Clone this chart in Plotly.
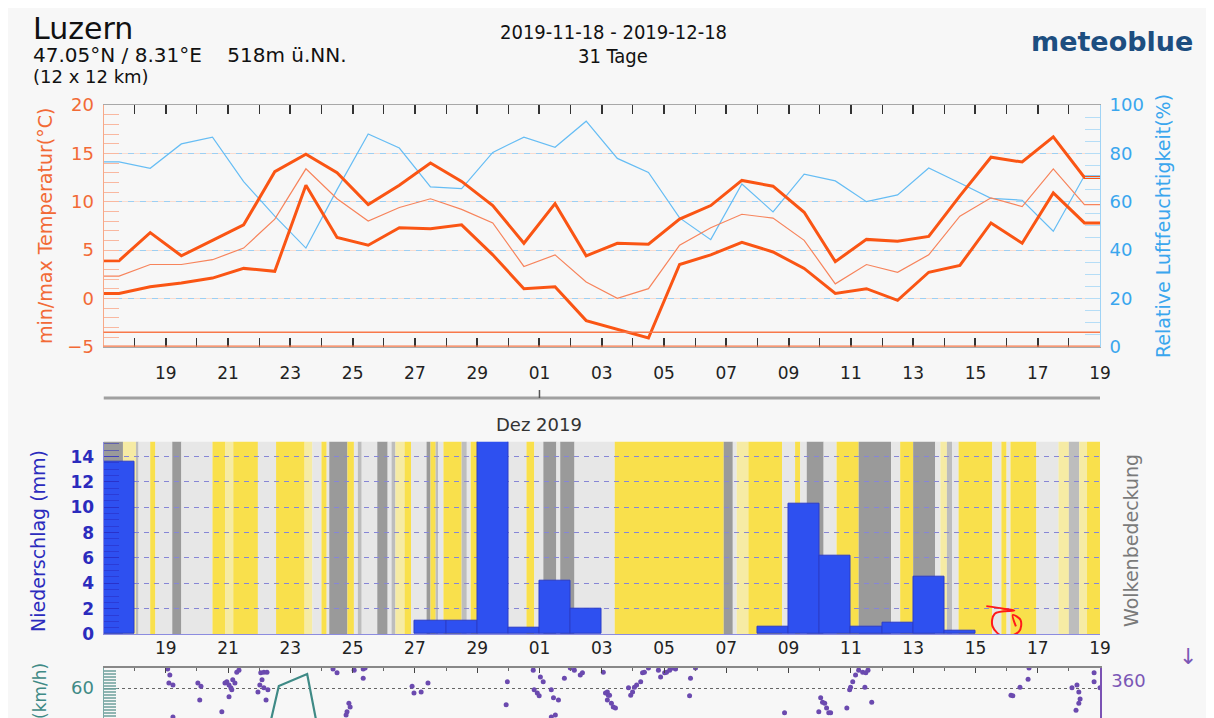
import pandas as pd
import plotly.graph_objects as go

# ---------------- data ----------------
base = pd.Timestamp("2019-11-17 00:00")
x_end = pd.Timestamp("2019-12-19 00:00")
days = pd.date_range("2019-11-17", periods=32, freq="D")
noon = days + pd.Timedelta(hours=12)
tick_days = pd.date_range("2019-11-19", "2019-12-19", freq="2D")
tick_labels = [t.strftime("%d") for t in tick_days]

temp_max = [3.9, 6.8, 4.4, 6.0, 7.6, 13.1, 14.9, 13.0, 9.7, 11.7, 14.0, 12.1, 9.6, 5.7, 9.8, 4.4,
            5.7, 5.6, 8.2, 9.6, 12.2, 11.6, 8.9, 3.8, 6.1, 5.9, 6.4, 10.6, 14.6, 14.1, 16.7, 12.5]
temp_min = [0.5, 1.2, 1.6, 2.1, 3.1, 2.8, 11.7, 6.3, 5.5, 7.3, 7.2, 7.6, 4.5, 1.0, 1.2, -2.3,
            -3.2, -4.1, 3.5, 4.5, 5.8, 4.8, 3.1, 0.5, 1.0, -0.2, 2.7, 3.4, 7.8, 5.7, 10.9, 7.8]
temp_mean = [2.3, 3.5, 3.5, 4.0, 5.2, 8.2, 13.4, 10.3, 8.0, 9.4, 10.3, 9.2, 7.8, 3.3, 4.5, 1.7,
             0.0, 1.0, 5.5, 7.3, 8.7, 8.3, 6.0, 1.5, 3.5, 2.7, 4.5, 8.5, 10.4, 9.5, 13.4, 9.7]
rel_hum = [76.5, 73.8, 83.9, 86.7, 68.3, 54.0, 40.8, 65.0, 88.0, 82.2, 66.1, 65.4, 80.4, 86.7, 82.5, 93.3,
           77.9, 72.1, 53.3, 44.3, 67.3, 55.8, 71.4, 68.6, 60.0, 62.8, 73.9, 67.7, 61.4, 60.6, 47.8, 70.7]
precip = [13.6, 0, 0, 0, 0, 0, 0, 0, 0, 0, 1.05, 1.05, 15.3, 0.5, 4.2, 2.0,
          0, 0, 0, 0, 0, 0.6, 10.3, 6.2, 0.6, 0.9, 4.5, 0.3, 0, 0, 0, 0]

# cloud cover segments (hours since 2019-11-17 00:00) and category
cloud_start_h = [0, 15, 25, 27, 36, 40, 53, 60, 84, 94, 100, 119, 133, 155, 161, 168, 172, 174, 188, 193,
                 196, 199, 211, 219, 222, 225, 232, 237, 249, 252, 256, 258, 262, 276, 280, 283, 289, 326,
                 332, 339, 349, 352, 363, 394, 478, 485, 488, 497, 523, 533, 537, 542, 555, 565, 582, 607,
                 614, 624, 641, 645, 650, 654, 659, 685, 692, 696, 699, 719, 736, 744, 752, 758]
cloud_type = ["D", "P", "M", "L", "Y", "L", "D", "L", "Y", "P", "Y", "L", "Y", "P", "L", "Y", "L", "D", "Y", "L",
              "M", "L", "D", "L", "M", "P", "Y", "L", "D", "Y", "M", "L", "Y", "M", "L", "Y", "L", "Y",
              "L", "D", "L", "D", "L", "Y", "D", "L", "P", "Y", "L", "Y", "L", "D", "L", "Y", "D", "L",
              "Y", "D", "L", "P", "M", "L", "Y", "L", "Y", "L", "Y", "L", "P", "M", "P", "Y"]
cloud_end_h = 768
cloud_colors = {"Y": "#f9e04c", "P": "#f6eba4", "L": "#e7e7e7", "M": "#bdbdbd", "D": "#9a9a9a"}

# wind (only the upper part of the panel is visible)
wind_speed_day = [0.0, 5.17, 5.63, 6.54, 7.0, 32.0]
wind_speed_kmh = [20, 20, 61.3, 69.3, 20, 20]
wind_dir_day = [2.06, 2.13, 2.10, 2.23, 2.23, 3.03, 3.13, 3.09, 3.80, 3.90, 3.96, 4.03, 4.09, 4.15, 4.22,
                4.28, 4.12, 4.03, 4.35, 5.05, 5.15, 5.25, 5.09, 5.02, 4.96, 5.15, 5.28, 5.22, 7.37, 7.50,
                8.05, 8.34, 8.40, 8.34, 7.88, 7.92, 7.82, 7.79, 9.91, 9.97, 10.20, 10.42, 12.97, 12.93,
                13.80, 14.03, 14.12, 13.83, 13.93, 13.99, 14.38, 14.45, 14.61, 14.51, 14.38, 14.80, 14.99,
                15.12, 15.31, 15.38, 16.05, 16.18, 16.21, 16.12, 16.25, 16.18, 16.31, 16.37, 16.44, 16.86,
                16.93, 16.99, 17.05, 17.12, 17.25, 17.31, 17.37, 17.50, 17.82, 17.89, 18.02, 18.08, 18.18,
                18.27, 18.37, 18.85, 18.82, 19.01, 21.87, 22.97, 23.03, 23.09, 23.16, 23.22, 23.29, 23.35,
                23.87, 24.06, 23.99, 23.96, 24.15, 24.25, 24.38, 24.48, 24.55, 24.45, 24.67, 29.14, 29.20,
                29.43, 29.69, 29.72, 31.10, 31.26, 31.32, 31.36, 31.32, 31.23, 31.81, 31.81, 32.0]
wind_dir_deg = [358, 347, 332, 328, 268, 332, 326, 300, 278, 332, 334, 328, 323, 338, 332,
                352, 319, 306, 356, 351, 352, 352, 338, 328, 315, 323, 319, 300, 358, 351,
                356, 358, 360, 341, 294, 287, 278, 272, 326, 313, 315, 332, 334, 291,
                356, 343, 334, 319, 313, 308, 319, 304, 300, 272, 268, 341, 360,
                356, 347, 351, 352, 315, 309, 313, 309, 300, 294, 287, 285, 323,
                309, 315, 324, 328, 334, 351, 352, 360, 356, 343, 351, 352, 356,
                360, 358, 341, 308, 360, 276, 278, 304, 296, 294, 285, 276, 276,
                285, 334, 324, 319, 347, 356, 352, 351, 356, 324, 296, 309, 308,
                324, 339, 360, 323, 328, 315, 302, 294, 281, 351, 334, 323]

# hand-drawn red mark (in precipitation panel coordinates: day offset, mm)
mark_day = [28.35, 28.9, 29.25, 28.62, 28.55, 28.9, 29.4, 29.45, 29.2, 29.3]
mark_mm = [2.2, 2.0, 1.85, 1.6, 0.6, -0.2, 0.2, 1.1, 1.5, 0.6]

# ---------------- figure ----------------
W, H = 1214, 718
OFF = 8  # page body margin: screen px = figure px + 8
def py(px):
    return 1 - (px - OFF) / H
def pxx(px):
    return (px - OFF) / W

FONT = "DejaVu Sans"
ORANGE = "#fa5514"
ORANGE_T = "#f26a36"
BLUE_RH = "#66bdf4"
BLUE_RH_T = "#3aa6ee"
BLUE_P = "#2b2bbd"
TEAL = "#3f8a86"
PURPLE = "#6b4aaf"

xdom = [pxx(103.5), pxx(1100)]
xr = [base.isoformat(), x_end.isoformat()]
DAY = 86400000

def tdays(d):
    return (base + pd.Timedelta(days=d)).isoformat()

fig = go.Figure()

x_ext = [base.isoformat()] + [t.isoformat() for t in noon] + [x_end.isoformat()]
def ext(v):
    return [v[0]] + list(v) + [v[-1]]

fig.add_trace(go.Scatter(x=x_ext, y=ext(rel_hum), mode="lines", line=dict(color=BLUE_RH, width=1.2),
                         xaxis="x", yaxis="y"))
fig.add_trace(go.Scatter(x=x_ext, y=ext(temp_mean), mode="lines", line=dict(color="#f7845c", width=1.2),
                         xaxis="x", yaxis="y2"))
fig.add_trace(go.Scatter(x=x_ext, y=ext(temp_max), mode="lines", line=dict(color=ORANGE, width=3),
                         xaxis="x", yaxis="y2"))
fig.add_trace(go.Scatter(x=x_ext, y=ext(temp_min), mode="lines", line=dict(color=ORANGE, width=3),
                         xaxis="x", yaxis="y2"))

fig.add_trace(go.Bar(x=[t.isoformat() for t in noon], y=precip, width=[DAY] * len(precip),
                     marker=dict(color="#2e50f0",
                                 line=dict(color="#2a3cc8", width=[1 if v > 0 else 0 for v in precip])),
                     xaxis="x2", yaxis="y3"))
fig.add_trace(go.Scatter(x=[tdays(d) for d in mark_day], y=mark_mm, mode="lines",
                         line=dict(color="#ff1a1a", width=2, shape="spline"), xaxis="x2", yaxis="y3"))

fig.add_trace(go.Scatter(x=[tdays(d) for d in wind_speed_day], y=wind_speed_kmh, mode="lines",
                         line=dict(color=TEAL, width=2.2), xaxis="x3", yaxis="y4"))
fig.add_trace(go.Scatter(x=[tdays(d) for d in wind_dir_day], y=wind_dir_deg, mode="markers",
                         marker=dict(color=PURPLE, size=5), xaxis="x3", yaxis="y5"))

ends = cloud_start_h[1:] + [cloud_end_h]
for s, e, t in zip(cloud_start_h, ends, cloud_type):
    fig.add_shape(type="rect", xref="x2", yref="y3 domain",
                  x0=(base + pd.Timedelta(hours=s)).isoformat(),
                  x1=(base + pd.Timedelta(hours=e)).isoformat(),
                  y0=0, y1=1, fillcolor=cloud_colors[t], line_width=0, layer="below")

for yv, w in [(-5, 2.5), (-3.5, 1.5)]:
    fig.add_shape(type="line", xref="x domain", yref="y2", x0=0, x1=1, y0=yv, y1=yv,
                  line=dict(color="#f8784a", width=w), layer="above")

fig.add_shape(type="line", xref="x", yref="paper", x0=xr[0], x1=xr[1], y0=py(398), y1=py(398),
              line=dict(color="#a0a0a0", width=3))
fig.add_shape(type="line", xref="x", yref="paper", x0="2019-12-01", x1="2019-12-01",
              y0=py(398), y1=py(390), line=dict(color="#555", width=1.5))

xcommon = dict(type="date", range=xr, domain=xdom, tickmode="array",
               tickvals=[t.isoformat() for t in tick_days], ticktext=tick_labels,
               automargin=False, showgrid=False, zeroline=False)

fig.update_layout(
    width=W, height=H, margin=dict(l=0, r=0, t=0, b=0),
    paper_bgcolor="#f7f7f7", plot_bgcolor="rgba(0,0,0,0)",
    showlegend=False, barmode="overlay", bargap=0,
    font=dict(family=FONT, color="#222"),
    xaxis=dict(**xcommon, anchor="y", showline=True, linecolor="#a8a8a8", linewidth=1,
               mirror="allticks", ticks="inside", ticklen=9, tickwidth=1.5, tickcolor="#333",
               minor=dict(dtick=DAY, tick0=base.isoformat(), ticks="inside", ticklen=5, tickwidth=1.2,
                          tickcolor="#333"),
               tickfont=dict(size=17, color="#222"), ticklabelstandoff=11),
    yaxis=dict(domain=[py(346.7), py(105)], range=[0, 100], side="right", anchor="x",
               tickvals=[0, 20, 40, 60, 80, 100], tickfont=dict(size=18, color=BLUE_RH_T),
               showgrid=True, gridcolor="#9dcff2", griddash="6px,6px", gridwidth=1,
               showline=True, linecolor="#9fd3f5", ticks="inside", ticklen=15, tickcolor="#b5ddf6",
               minor=dict(dtick=5, ticks="inside", ticklen=15, tickcolor="#b5ddf6"),
               zeroline=False, automargin=False, ticklabelstandoff=5),
    yaxis2=dict(range=[-5, 20], overlaying="y", side="left", anchor="x",
                tickvals=[-5, 0, 5, 10, 15, 20], tickfont=dict(size=18, color=ORANGE_T),
                showgrid=True, gridcolor="#fadccf", griddash="0px,6px,6px,0px", gridwidth=1,
                showline=True, linecolor="#f7a988", ticks="inside", ticklen=15, tickcolor="#f9b8a0",
                minor=dict(dtick=1, ticks="inside", ticklen=15, tickcolor="#f9b8a0"),
                zeroline=False, automargin=False, ticklabelstandoff=5),
    xaxis2=dict(**xcommon, anchor="y3", showline=True, linecolor="#8c8ce0", linewidth=1,
                ticks="", showticklabels=False),
    yaxis3=dict(domain=[py(634), py(441.7)], range=[0, 15.18], anchor="x2",
                tickvals=[0, 2, 4, 6, 8, 10, 12, 14],
                tickfont=dict(size=17, color=BLUE_P, weight="bold"),
                showgrid=True, gridcolor="#8686d6", griddash="5px,5px", gridwidth=1,
                showline=True, linecolor="#8c8ce0", ticks="inside", ticklen=15,
                tickcolor="rgba(40,40,190,0.5)",
                minor=dict(dtick=0.5, ticks="inside", ticklen=15, tickcolor="rgba(40,40,190,0.5)"),
                zeroline=False, automargin=False, ticklabelstandoff=5),
    xaxis3=dict(**xcommon, anchor="y4", side="top", showline=True, linecolor="#888", linewidth=1.5,
                ticks="inside", ticklen=5, tickcolor="#444",
                minor=dict(dtick=DAY, tick0=base.isoformat(), ticks="inside", ticklen=3, tickcolor="#666"),
                tickfont=dict(size=17, color="#222"), ticklabelstandoff=5),
    yaxis4=dict(domain=[0, py(668)], range=[34.67, 73.33], anchor="x3",
                tickvals=[60], tickfont=dict(size=18, color=TEAL),
                showgrid=True, gridcolor="#666", griddash="dot", gridwidth=1,
                showline=True, linecolor="#7aa9a6", ticks="inside", ticklen=14, tickcolor="#6e9e9b",
                minor=dict(dtick=1, ticks="inside", ticklen=12, tickcolor="#8fb5b2"),
                zeroline=False, automargin=False, ticklabelstandoff=5),
    yaxis5=dict(range=[251.25, 360], overlaying="y4", side="right", anchor="x3",
                tickvals=[360], ticktext=["360"], tickfont=dict(size=18, color="#7b58b6"),
                ticklabelposition="outside bottom",
                showgrid=False, showline=True, linecolor="#7b52b4", linewidth=1.5, ticks="",
                zeroline=False, automargin=False, ticklabelstandoff=6),
)

ann = []
def A(text, x, y, size, color="#111", xanchor="center", yanchor="middle", angle=0, family=FONT, xref="paper",
      weight="normal"):
    ann.append(dict(text=text, x=x, y=y, xref=xref, yref="paper", xanchor=xanchor, yanchor=yanchor,
                    showarrow=False, textangle=angle,
                    font=dict(size=size, color=color, family=family, weight=weight)))

A("Luzern", pxx(31), py(28), 30, xanchor="left")
A("47.05°N / 8.31°E\u00a0\u00a0\u00a0\u00a0518m ü.NN.", pxx(31), py(55), 20, xanchor="left")
A("(12 x 12 km)", pxx(31), py(76), 18, xanchor="left")
A("2019-11-18 - 2019-12-18", pxx(613), py(32), 20, family="DejaVu Sans Condensed, DejaVu Sans")
A("31 Tage", pxx(613), py(56), 20, family="DejaVu Sans Condensed, DejaVu Sans")
A("meteoblue", pxx(1112), py(42), 27, color="#1d4e80", weight="bold")
A("min/max Temperatur(°C)", pxx(45), py(226), 19, color=ORANGE_T, angle=-90)
A("Relative Luftfeuchtigkeit(%)", pxx(1163), py(226), 19, color=BLUE_RH_T, angle=-90)
A("Dez 2019", "2019-12-01", py(424), 18, color="#333", xref="x")
A("Niederschlag (mm)", pxx(38), py(541), 19, color=BLUE_P, angle=-90)
A("Wolkenbedeckung", pxx(1131), py(541), 19, color="#7a7a7a", angle=-90)
A("(km/h)", pxx(40), py(691), 17, color=TEAL, angle=-90)
A("↓", pxx(1188), py(656), 22, color="#7b58b6")
fig.update_layout(annotations=ann)

fig.write_html("out.html")
